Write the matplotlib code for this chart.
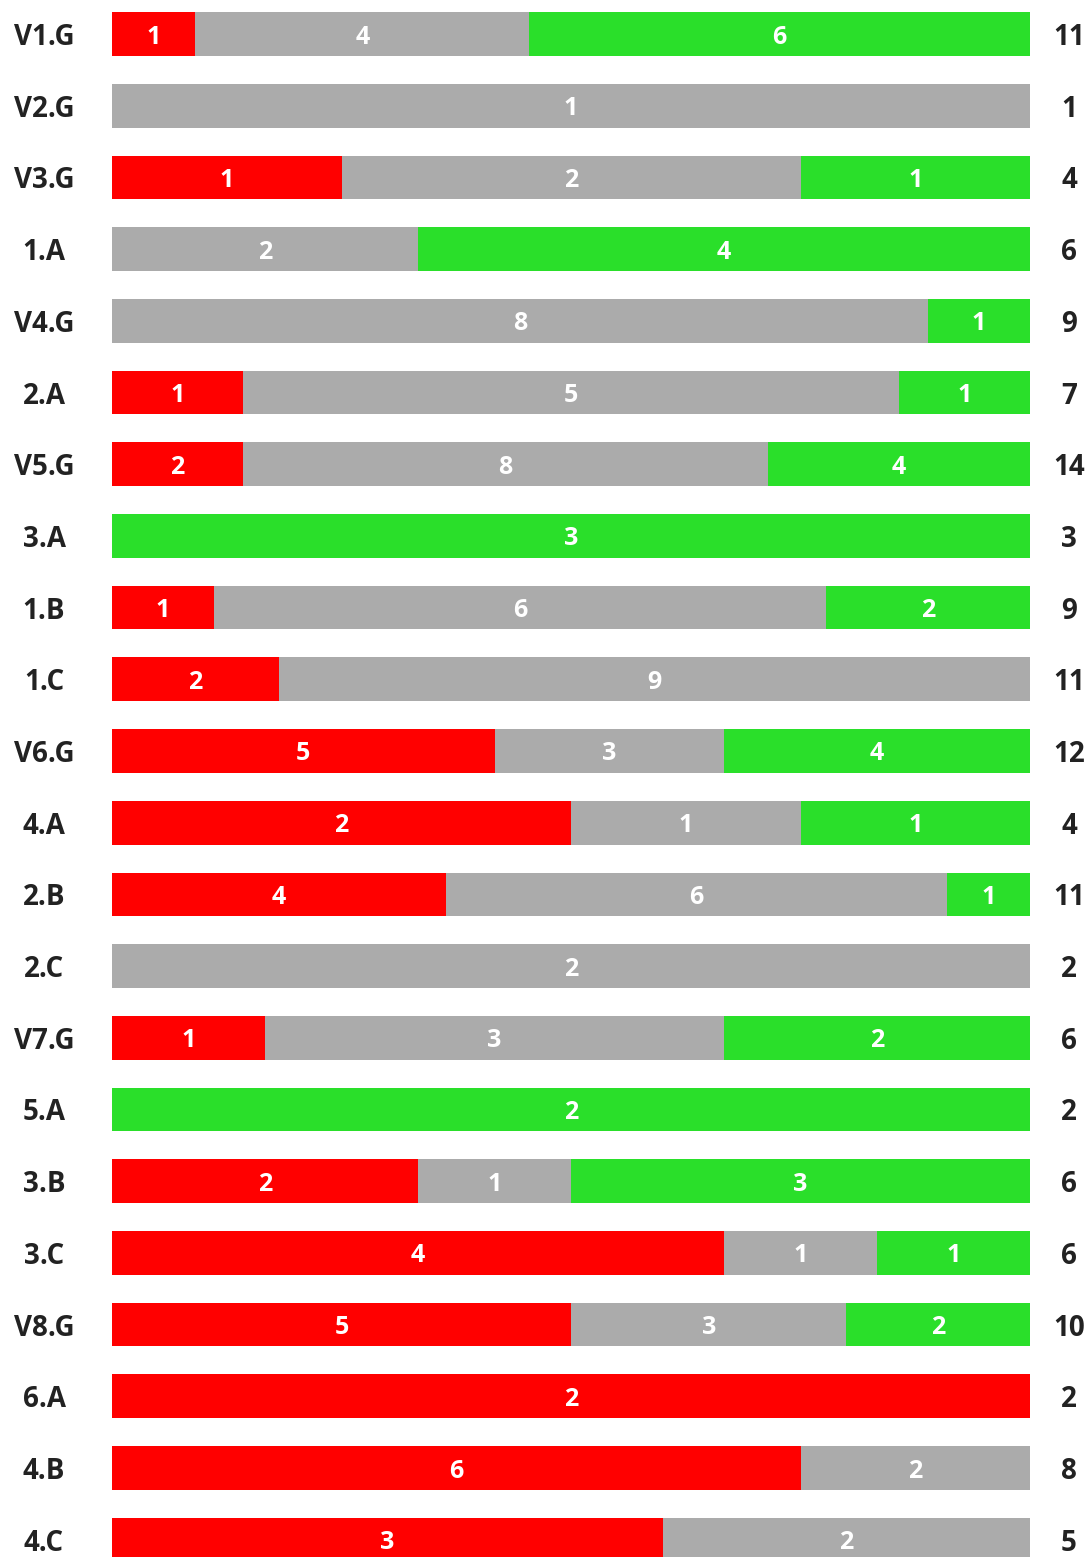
import matplotlib
matplotlib.use("Agg")
import matplotlib.pyplot as plt
import numpy as np

categories = ["V1.G", "V2.G", "V3.G", "1.A", "V4.G", "2.A", "V5.G", "3.A", "1.B", "1.C",
              "V6.G", "4.A", "2.B", "2.C", "V7.G", "5.A", "3.B", "3.C", "V8.G", "6.A",
              "4.B", "4.C"]
red_vals   = [1, 0, 1, 0, 0, 1, 2, 0, 1, 2, 5, 2, 4, 0, 1, 0, 2, 4, 5, 2, 6, 3]
gray_vals  = [4, 1, 2, 2, 8, 5, 8, 0, 6, 9, 3, 1, 6, 2, 3, 0, 1, 1, 3, 0, 2, 2]
green_vals = [6, 0, 1, 4, 1, 1, 4, 3, 2, 0, 4, 1, 1, 0, 2, 2, 3, 1, 2, 0, 0, 0]

colors = ["#FF0000", "#ABABAB", "#2ADF2A"]
plt.rcParams['font.family'] = ['Open Sans', 'DejaVu Sans']

W, H = 1089, 1557
fig = plt.figure(figsize=(W / 100, H / 100), dpi=100)
x0, x1 = 112, 1030
ax = fig.add_axes([x0 / W, 0, (x1 - x0) / W, 1])

step = 71.7
first = 34
ax.set_ylim((H - first) / step, -first / step)
ax.set_xlim(0, 1)

series = [red_vals, gray_vals, green_vals]
n = len(categories)
totals = [sum(s[i] for s in series) for i in range(n)]
y = np.arange(n)
left = np.zeros(n)
for vals, c in zip(series, colors):
    vals = np.array(vals, dtype=float)
    frac = vals / np.array(totals)
    ax.barh(y, frac, left=left, height=0.61, color=c, linewidth=0)
    for i in range(n):
        if vals[i] > 0:
            ax.text(left[i] + frac[i] / 2, y[i], f"{int(vals[i])}", ha="center",
                    va="center_baseline", color="white", fontsize=18, fontweight="bold")
    left += frac

for i in range(n):
    yy = 1 - (first + step * i) / H
    ax.text(44 / W, yy, categories[i], transform=fig.transFigure,
            ha="center", va="center_baseline", fontsize=20, fontweight="bold", color="#222222")
    ax.text(1069 / W, yy, str(totals[i]), transform=fig.transFigure,
            ha="center", va="center_baseline", fontsize=20, fontweight="bold", color="#222222")

ax.axis("off")
fig.savefig("out.png", dpi=100)
